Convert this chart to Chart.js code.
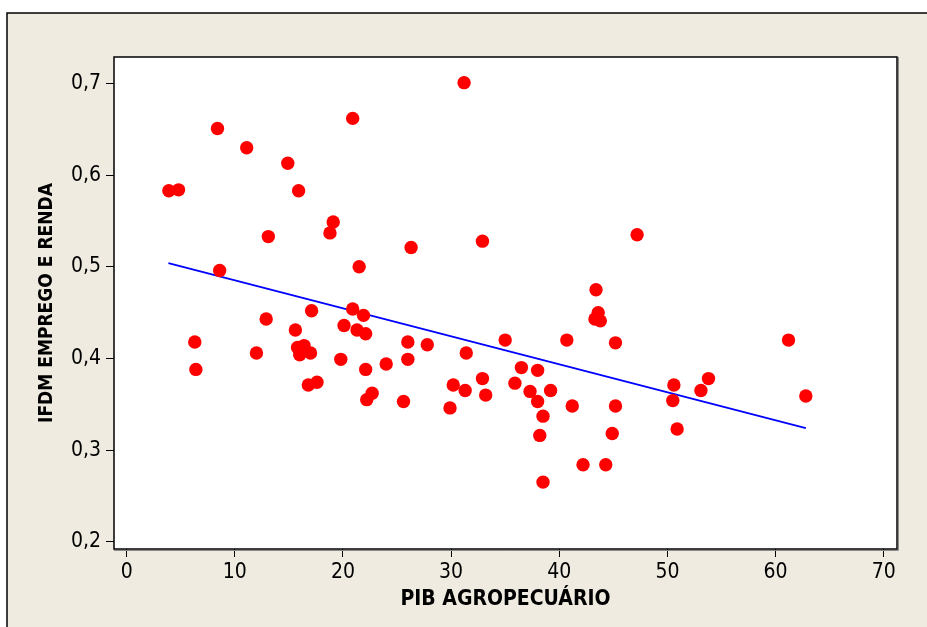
<!DOCTYPE html>
<html>
<head>
<meta charset="utf-8">
<script src="https://cdn.jsdelivr.net/npm/chart.js@4"></script>
<style>
  html, body { margin: 0; padding: 0; background: #fff; }
  #wrap { width: 927px; height: 627px; }
</style>
</head>
<body>
<div id="wrap"><canvas id="myChart" width="927" height="627"></canvas></div>
<script>
// PIB agropecuário (x) vs IFDM emprego e renda (y)
const pibAgro = [3.9, 4.8, 6.3, 6.4, 8.4, 8.6, 11.1, 12.0, 12.9, 13.1, 14.9, 15.6, 15.8, 15.9, 16.0, 16.4, 16.8, 17.0, 17.1, 17.6,
    18.8, 19.1, 19.8, 20.1, 20.9, 20.9, 21.3, 21.5, 21.9, 22.1, 22.1, 22.2, 22.7, 24.0, 25.6, 26.0, 26.0, 26.3, 27.8, 29.9,
    30.2, 31.2, 31.3, 31.4, 32.9, 32.9, 33.2, 35.0, 35.9, 36.5, 37.3, 38.0, 38.0, 38.2, 38.5, 38.5, 39.2, 40.7, 41.2, 42.2,
    43.3, 43.4, 43.6, 43.8, 44.3, 44.9, 45.2, 45.2, 47.2, 50.5, 50.6, 50.9, 53.1, 53.8, 61.2, 62.8];
const ifdmEmprego = [0.583, 0.584, 0.418, 0.388, 0.651, 0.496, 0.630, 0.406, 0.443, 0.533, 0.613, 0.431, 0.412, 0.583, 0.404, 0.414, 0.371, 0.406, 0.452, 0.374,
    0.537, 0.549, 0.399, 0.436, 0.662, 0.454, 0.431, 0.500, 0.447, 0.427, 0.388, 0.355, 0.362, 0.394, 0.353, 0.418, 0.399, 0.521, 0.415, 0.346,
    0.371, 0.701, 0.365, 0.406, 0.378, 0.528, 0.360, 0.420, 0.373, 0.390, 0.364, 0.387, 0.353, 0.316, 0.337, 0.265, 0.365, 0.420, 0.348, 0.284,
    0.443, 0.475, 0.450, 0.441, 0.284, 0.318, 0.417, 0.348, 0.535, 0.354, 0.371, 0.323, 0.365, 0.378, 0.420, 0.359];

// regression line end points
const fitX = [3.86, 62.8];
const fitY = [0.504, 0.324];

const xTicks = [0, 10, 20, 30, 40, 50, 60, 70];
const yTicks = [0.2, 0.3, 0.4, 0.5, 0.6, 0.7];

const tickFont = { family: "'Liberation Sans Narrow', 'DejaVu Sans Condensed', sans-serif", size: 21 };
const xTitleFont = { family: "'Liberation Sans Narrow', 'DejaVu Sans Condensed', sans-serif", size: 21, weight: 'bold' };
const yTitleFont = { family: "'Liberation Sans Narrow', 'DejaVu Sans Condensed', sans-serif", size: 19, weight: 'bold' };

// beige page, white data region, frame
const framePlugin = {
    id: 'frame',
    beforeDraw(chart) {
        const c = chart.ctx;
        const a = chart.chartArea;
        c.save();
        c.fillStyle = '#ffffff';
        c.fillRect(0, 0, chart.width, chart.height);
        c.fillStyle = '#efebe1';
        c.fillRect(7, 13, chart.width - 7, chart.height - 13);
        c.strokeStyle = '#000000';
        c.lineWidth = 1.5;
        c.beginPath();
        c.moveTo(7, chart.height);
        c.lineTo(7, 13);
        c.lineTo(chart.width, 13);
        c.stroke();
        c.fillStyle = '#ffffff';
        c.fillRect(a.left, a.top, a.right - a.left, a.bottom - a.top);
        c.restore();
    },
    afterDraw(chart) {
        const c = chart.ctx;
        const a = chart.chartArea;
        c.save();
        c.strokeStyle = '#000000';
        c.lineWidth = 1.5;
        c.strokeRect(a.left, a.top, a.right - a.left, a.bottom - a.top);
        c.strokeStyle = '#8a8a8a';
        c.lineWidth = 1;
        c.beginPath();
        c.moveTo(a.right + 1.5, a.top);
        c.lineTo(a.right + 1.5, a.bottom + 1.5);
        c.lineTo(a.left, a.bottom + 1.5);
        c.stroke();
        c.restore();
    }
};

const ctx = document.getElementById('myChart').getContext('2d');
const myChart = new Chart(ctx, {
    type: 'scatter',
    data: {
        datasets: [{
            label: 'Municípios',
            data: pibAgro.map((x, i) => ({ x: x, y: ifdmEmprego[i] })),
            backgroundColor: '#ff0000',
            borderColor: '#ff0000',
            borderWidth: 0,
            pointRadius: 6.7,
            order: 1
        }, {
            type: 'line',
            label: 'Ajuste',
            data: fitX.map((x, i) => ({ x: x, y: fitY[i] })),
            borderColor: '#0000ff',
            borderWidth: 1.8,
            pointRadius: 0,
            fill: false,
            order: 2
        }]
    },
    options: {
        responsive: false,
        animation: false,
        events: [],
        layout: { padding: { left: 0, top: 57, right: 30, bottom: 0 } },
        plugins: { legend: { display: false }, tooltip: { enabled: false } },
        scales: {
            x: {
                type: 'linear',
                min: -1.17,
                max: 71.23,
                afterBuildTicks: s => { s.ticks = xTicks.map(v => ({ value: v })); },
                afterFit: s => { s.height = 78; },
                grid: { drawOnChartArea: false, drawTicks: true, tickLength: 8, color: '#000000', lineWidth: 1 },
                border: { display: false },
                ticks: { color: '#000000', font: tickFont, padding: 3, maxRotation: 0, autoSkip: false, callback: v => String(v) },
                title: { display: true, text: 'PIB AGROPECUÁRIO', color: '#000000', font: xTitleFont, padding: { top: 0, bottom: 15 } }
            },
            y: {
                type: 'linear',
                min: 0.192,
                max: 0.729,
                afterBuildTicks: s => { s.ticks = yTicks.map(v => ({ value: v })); },
                afterFit: s => { s.width = 114; },
                grid: { drawOnChartArea: false, drawTicks: true, tickLength: 8, color: '#000000', lineWidth: 1 },
                border: { display: false },
                ticks: { color: '#000000', font: tickFont, padding: 5, autoSkip: false, callback: v => v.toFixed(1).replace('.', ',') },
                title: { display: true, text: 'IFDM EMPREGO E RENDA', color: '#000000', font: yTitleFont, padding: { top: 36, bottom: 0 } }
            }
        }
    },
    plugins: [framePlugin]
});
</script>
</body>
</html>
